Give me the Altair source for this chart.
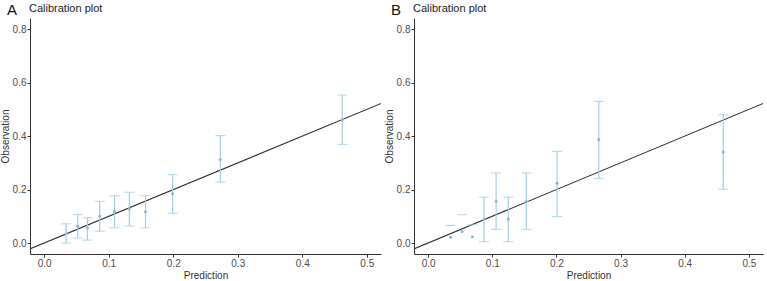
import altair as alt
import pandas as pd

# Calibration results for the two models: predicted risk per group,
# observed event rate and its confidence interval.
pred_a = [0.034, 0.052, 0.067, 0.086, 0.109, 0.132, 0.157, 0.199, 0.273, 0.462]
obs_a = [0.035, 0.063, 0.056, 0.100, 0.117, 0.127, 0.117, 0.184, 0.313, 0.462]
lo_a = [0.000, 0.019, 0.011, 0.044, 0.057, 0.064, 0.057, 0.111, 0.228, 0.369]
hi_a = [0.072, 0.107, 0.095, 0.156, 0.177, 0.190, 0.177, 0.256, 0.402, 0.554]

pred_b = [0.035, 0.053, 0.069, 0.087, 0.106, 0.125, 0.153, 0.201, 0.266, 0.460]
obs_b = [0.022, 0.043, 0.024, 0.088, 0.156, 0.090, 0.156, 0.224, 0.387, 0.341]
lo_b = [None, None, None, 0.005, 0.051, 0.005, 0.051, 0.099, 0.242, 0.201]
hi_b = [0.066, 0.106, 0.068, 0.172, 0.262, 0.172, 0.262, 0.343, 0.530, 0.480]

x_ticks = [0.0, 0.1, 0.2, 0.3, 0.4, 0.5]
y_ticks = [0.0, 0.2, 0.4, 0.6, 0.8]
x_domain = [-0.022, 0.522]
y_domain = [-0.041, 0.842]

FONT = "Liberation Sans"
BAR = "#a3cee3"
DOT = "#93b4cc"


def panel(letter, pred, obs, lo, hi, width):
    df = pd.DataFrame({"pred": pred, "obs": obs, "lo": lo, "hi": hi})
    diag = pd.DataFrame({"v": [x_domain[0] - 0.05, x_domain[1] + 0.05]})

    xs = alt.Scale(domain=x_domain, nice=False, zero=False)
    ys = alt.Scale(domain=y_domain, nice=False, zero=False)
    xax = alt.Axis(values=x_ticks, format=".1f", title="Prediction")
    yax = alt.Axis(values=y_ticks, format=".1f", title="Observation")

    base = alt.Chart(df)

    identity = alt.Chart(diag).mark_line(
        color="#2b2b2b", strokeWidth=1.1, clip=True
    ).encode(
        x=alt.X("v:Q", scale=xs, axis=xax),
        y=alt.Y("v:Q", scale=ys, axis=yax),
    )

    stems = base.transform_filter("isValid(datum.lo)").mark_rule(
        color=BAR, strokeWidth=1.2
    ).encode(
        x=alt.X("pred:Q", scale=xs),
        y=alt.Y("lo:Q", scale=ys),
        y2="hi:Q",
    )

    caps_hi = base.mark_tick(
        color=BAR, orient="horizontal", size=10, thickness=1.2
    ).encode(
        x=alt.X("pred:Q", scale=xs),
        y=alt.Y("hi:Q", scale=ys),
    )

    caps_lo = base.transform_filter("isValid(datum.lo)").mark_tick(
        color=BAR, orient="horizontal", size=10, thickness=1.2
    ).encode(
        x=alt.X("pred:Q", scale=xs),
        y=alt.Y("lo:Q", scale=ys),
    )

    dots = base.mark_circle(size=9, color=DOT, opacity=1).encode(
        x=alt.X("pred:Q", scale=xs),
        y=alt.Y("obs:Q", scale=ys),
    )

    # panel letter and heading, drawn as text in the space above the plot
    tag = alt.Chart(pd.DataFrame({"t": [letter]})).mark_text(
        font=FONT, fontSize=15, color="#111", align="left", baseline="alphabetic"
    ).encode(
        text="t:N",
        x=alt.value(-23),
        y=alt.value(-3),
    )
    heading = alt.Chart(pd.DataFrame({"t": ["Calibration plot"]})).mark_text(
        font=FONT, fontSize=11, color="#222", align="left", baseline="alphabetic"
    ).encode(
        text="t:N",
        x=alt.value(-1),
        y=alt.value(-6),
    )

    return alt.layer(identity, stems, caps_hi, caps_lo, dots, tag, heading).properties(
        width=width,
        height=236,
    )


chart = alt.hconcat(
    panel("A", pred_a, obs_a, lo_a, hi_a, 351),
    panel("B", pred_b, obs_b, lo_b, hi_b, 349),
    spacing=3,
).properties(
    padding={"left": 0, "top": 3, "right": 4, "bottom": 0}
).configure_view(
    stroke=None
).configure_axis(
    grid=False,
    domainColor="#333333",
    domainWidth=1,
    tickColor="#333333",
    tickSize=3,
    labelFont=FONT,
    labelFontSize=10,
    labelColor="#4d4d4d",
    labelPadding=1,
    titleFont=FONT,
    titleFontSize=10,
    titleFontWeight="normal",
    titleColor="#333333",
    titlePadding=2,
)

chart.save("out.html", embed_options={"renderer": "svg", "actions": False})
